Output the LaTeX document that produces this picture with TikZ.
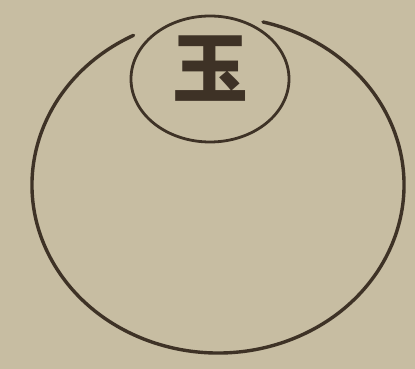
\documentclass[tikz,border=0pt]{standalone}
\usepackage{fontspec}
\newfontfamily\cjk{Noto Sans CJK SC}
\usetikzlibrary{shapes.geometric}
\definecolor{paper}{RGB}{199,189,162}
\definecolor{ink}{RGB}{62,50,38}

\begin{document}
\begin{tikzpicture}[
    x=1pt, y=1pt,
    ring/.style={draw=ink, line width=3.4pt, line cap=round},
    bubble/.style={ring, line width=2.8pt, ellipse, minimum width=158pt, minimum height=126pt, inner sep=0pt},
    glyph/.style={text=ink, font=\cjk\bfseries\fontsize{76}{76}\selectfont, inner sep=0pt}
  ]
  % Paper
  \fill[paper] (0,0) rectangle (415,369);
  \useasboundingbox (0,0) rectangle (415,369);

  % Outer ring, open at the top
  \draw[ring] (218,184) ++(117:186 and 168) arc[start angle=117, end angle=436, x radius=186, y radius=168];

  % Inner circle with the character
  \node[bubble] (yu) at (210,290) {};
  \node[glyph] (yuchar) at ([yshift=10pt]yu.center) {玉};
\end{tikzpicture}
\end{document}
